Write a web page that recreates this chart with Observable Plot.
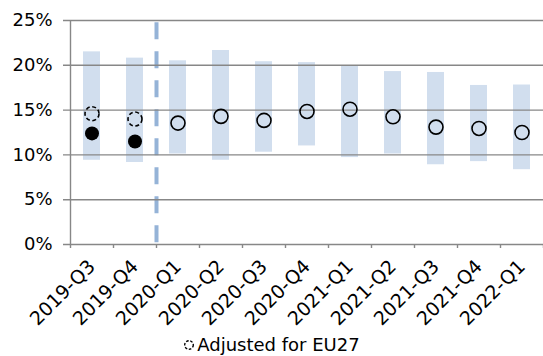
<!DOCTYPE html>
<html>
<head>
<meta charset="utf-8">
<script src="https://cdn.jsdelivr.net/npm/d3@7"></script>
<script src="https://cdn.jsdelivr.net/npm/@observablehq/plot@0.6"></script>
<style>
  html, body { margin: 0; padding: 0; background: #fff; }
  #chart { width: 543px; }
  #chart [aria-label^="x-axis"] { font-size: 19px; }
  .legend { width: 543px; height: 22px; display: flex; justify-content: center; align-items: center;
    font-family: "DejaVu Sans", Verdana, sans-serif; font-size: 18px; color: #000; line-height: 22px; }
  .legend svg { margin-right: 2px; }
</style>
</head>
<body>
<div id="chart"></div>
<script>
const quarters = ["2019-Q3","2019-Q4","2020-Q1","2020-Q2","2020-Q3","2020-Q4","2021-Q1","2021-Q2","2021-Q3","2021-Q4","2022-Q1"];
const rangeLow  = [9.4, 9.15, 10.1, 9.4, 10.3, 11.0, 9.7, 10.1, 8.9, 9.25, 8.35];
const rangeHigh = [21.5, 20.8, 20.5, 21.65, 20.4, 20.3, 19.9, 19.3, 19.2, 17.75, 17.8];
const ratioActual   = [12.4, 11.5, null, null, null, null, null, null, null, null, null];
const ratioAdjusted = [14.6, 14.0, null, null, null, null, null, null, null, null, null];
const ratioCurrent  = [null, null, 13.55, 14.3, 13.85, 14.85, 15.1, 14.25, 13.1, 12.95, 12.5];
const yTicks = [0, 5, 10, 15, 20, 25];
const breakQuarter = "2020-Q1";
const legendLabel = "Adjusted for EU27";

const rows = quarters.map((q, i) => ({
  q, lo: rangeLow[i], hi: rangeHigh[i],
  actual: ratioActual[i], adjusted: ratioAdjusted[i], current: ratioCurrent[i]
}));

const W = 543, H = 334, mL = 70, mR = 0, mT = 20, mB = 90;
const step = (W - mL - mR) / quarters.length;
const grid = "#878787";

const chart = Plot.plot({
  width: W, height: H,
  marginLeft: mL, marginRight: mR, marginTop: mT, marginBottom: mB,
  style: { fontFamily: "DejaVu Sans, Verdana, sans-serif", fontSize: "18px", color: "#000", background: "#fff", overflow: "visible" },
  x: { domain: quarters, paddingInner: 0.6, paddingOuter: 0.3, tickRotate: -45, tickSize: 0, tickPadding: 19, label: null },
  y: { domain: [0, 25], ticks: yTicks, tickFormat: d => d + "%", tickSize: 0, tickPadding: 18, label: null },
  marks: [
    Plot.barY(rows, { x: "q", y1: "lo", y2: "hi", fill: "#D1DEEE" }),
    Plot.ruleX([breakQuarter], { x: d => d, y1: 24.75, y2: 0, dx: -step / 2, stroke: "#95B3D7", strokeWidth: 4, strokeDasharray: "17,12" }),
    Plot.ruleY(yTicks, { y: d => d, stroke: grid, strokeWidth: 1.4, insetLeft: -7 }),
    Plot.ruleX([quarters[0]], { x: d => d, dx: -step / 2, stroke: grid, strokeWidth: 1.4 }),
    Plot.ruleX(quarters, { x: d => d, dx: -step / 2, stroke: grid, strokeWidth: 1.4, insetTop: H - mT - mB, insetBottom: -4 }),
    Plot.ruleX([quarters[quarters.length - 1]], { x: d => d, dx: step / 2, stroke: grid, strokeWidth: 1.4, insetTop: H - mT - mB, insetBottom: -4 }),
    Plot.dot(rows.filter(d => d.actual != null), { x: "q", y: "actual", r: 7, fill: "#000", stroke: "none" }),
    Plot.dot(rows.filter(d => d.adjusted != null), { x: "q", y: "adjusted", r: 7, fill: "none", stroke: "#000", strokeWidth: 1.6, strokeDasharray: "4,2.6" }),
    Plot.dot(rows.filter(d => d.current != null), { x: "q", y: "current", r: 7, fill: "none", stroke: "#000", strokeWidth: 1.6 })
  ]
});
document.getElementById("chart").appendChild(chart);

const legend = document.createElement("div");
legend.className = "legend";
legend.innerHTML = '<svg width="12" height="12" viewBox="0 0 12 12"><circle cx="6" cy="6" r="4.3" fill="none" stroke="#000" stroke-width="1.4" stroke-dasharray="2.6,1.6"/></svg><span></span>';
legend.querySelector("span").textContent = legendLabel;
document.body.appendChild(legend);
</script>
</body>
</html>
